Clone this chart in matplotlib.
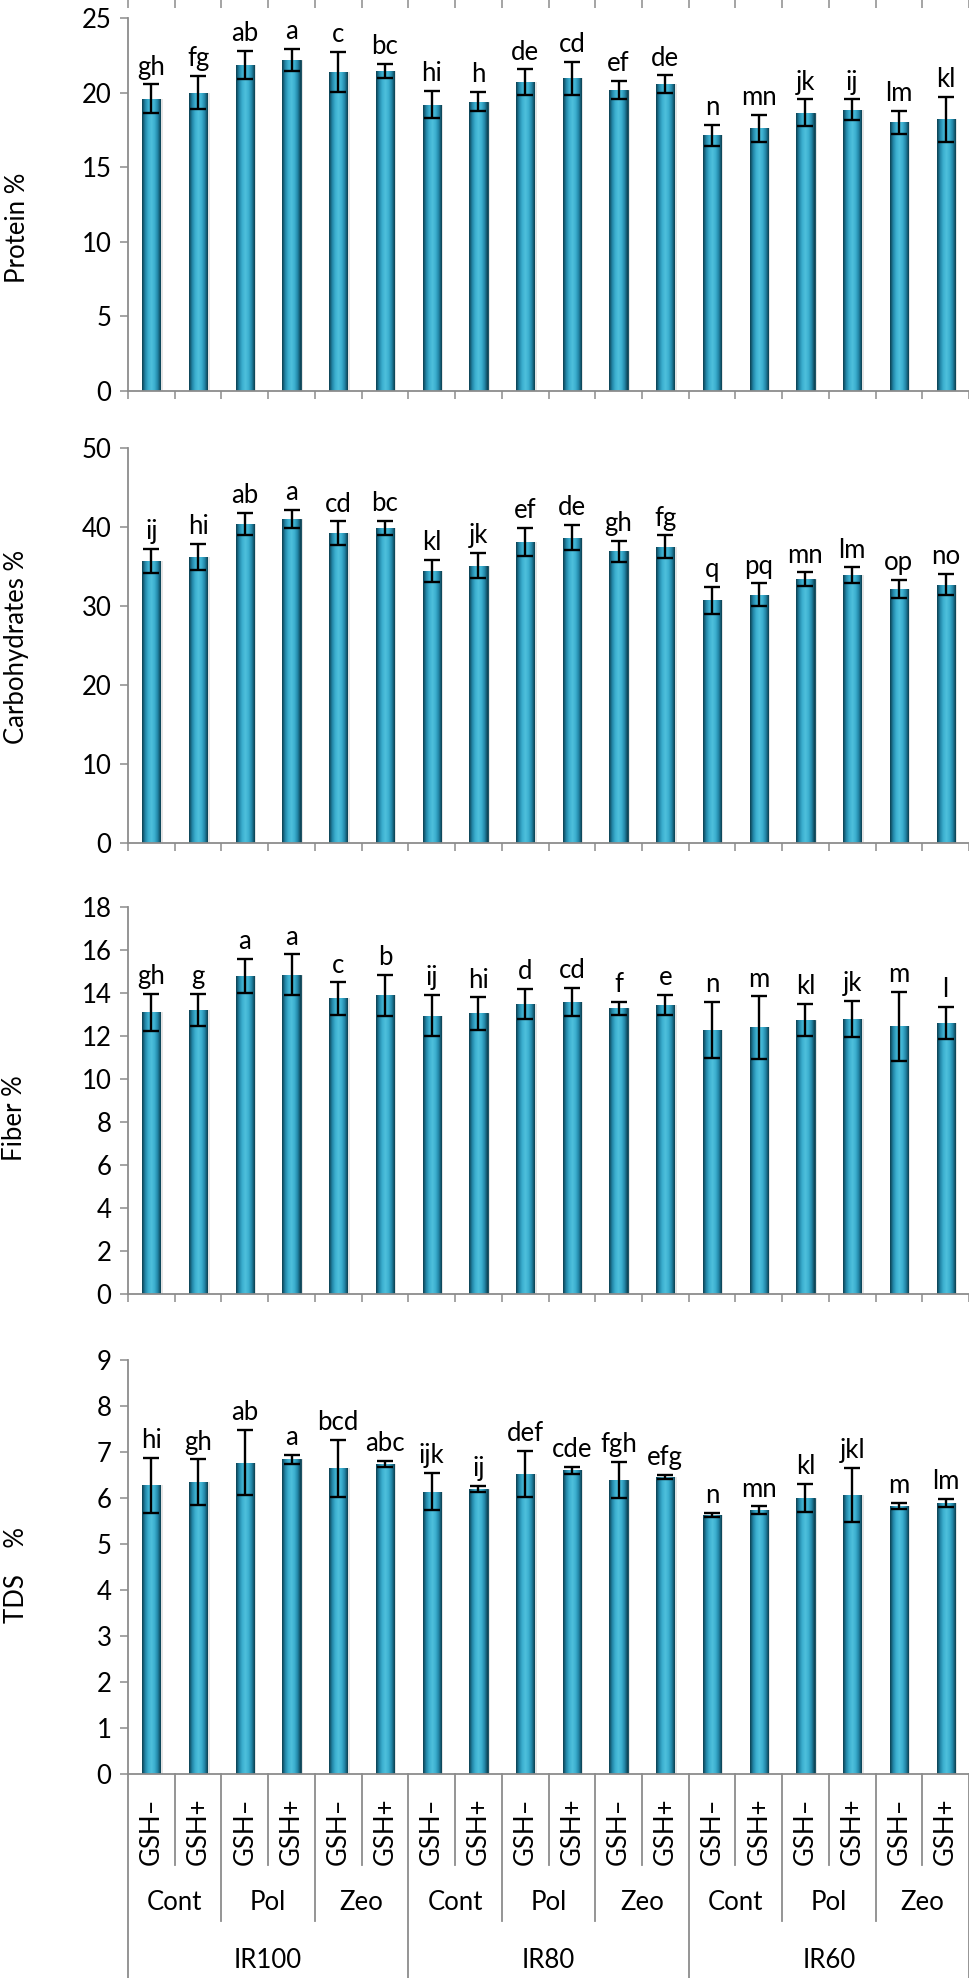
import numpy as np
import matplotlib
matplotlib.use("Agg")
import matplotlib.pyplot as plt
from matplotlib.colors import LinearSegmentedColormap
import matplotlib.transforms as mtransforms

plt.rcParams['font.family'] = ['Lato', 'DejaVu Sans']

ir_levels = ['IR100', 'IR80', 'IR60']
treatments = ['Cont', 'Pol', 'Zeo']
gsh = ['GSH\u2013', 'GSH+']

protein = [19.6, 20.0, 21.85, 22.2, 21.4, 21.45, 19.2, 19.4, 20.7, 20.95, 20.2, 20.55,
           17.15, 17.6, 18.65, 18.85, 18.0, 18.2]
protein_err = [0.95, 1.1, 0.95, 0.75, 1.35, 0.5, 0.9, 0.65, 0.85, 1.1, 0.6, 0.6,
               0.7, 0.9, 0.9, 0.7, 0.8, 1.5]
protein_letters = ['gh', 'fg', 'ab', 'a', 'c', 'bc', 'hi', 'h', 'de', 'cd', 'ef', 'de',
                   'n', 'mn', 'jk', 'ij', 'lm', 'kl']

carbs = [35.7, 36.2, 40.4, 41.0, 39.2, 39.9, 34.4, 35.1, 38.1, 38.65, 36.9, 37.5,
         30.7, 31.4, 33.4, 33.9, 32.2, 32.7]
carbs_err = [1.55, 1.7, 1.4, 1.15, 1.5, 0.9, 1.4, 1.6, 1.8, 1.6, 1.35, 1.45,
             1.75, 1.45, 0.85, 1.0, 1.15, 1.35]
carbs_letters = ['ij', 'hi', 'ab', 'a', 'cd', 'bc', 'kl', 'jk', 'ef', 'de', 'gh', 'fg',
                 'q', 'pq', 'mn', 'lm', 'op', 'no']

fiber = [13.1, 13.2, 14.8, 14.85, 13.75, 13.9, 12.95, 13.05, 13.5, 13.6, 13.3, 13.45,
         12.3, 12.4, 12.75, 12.8, 12.45, 12.6]
fiber_err = [0.85, 0.75, 0.8, 0.95, 0.75, 0.95, 0.95, 0.75, 0.7, 0.65, 0.3, 0.45,
             1.3, 1.45, 0.75, 0.85, 1.6, 0.75]
fiber_letters = ['gh', 'g', 'a', 'a', 'c', 'b', 'ij', 'hi', 'd', 'cd', 'f', 'e',
                 'n', 'm', 'kl', 'jk', 'm', 'l']

tds = [6.28, 6.34, 6.77, 6.84, 6.65, 6.74, 6.14, 6.19, 6.53, 6.6, 6.39, 6.46,
       5.63, 5.74, 6.0, 6.07, 5.83, 5.89]
tds_err = [0.6, 0.5, 0.71, 0.1, 0.62, 0.07, 0.4, 0.07, 0.5, 0.07, 0.4, 0.05,
           0.05, 0.08, 0.3, 0.59, 0.07, 0.09]
tds_letters = ['hi', 'gh', 'ab', 'a', 'bcd', 'abc', 'ijk', 'ij', 'def', 'cde', 'fgh', 'efg',
               'n', 'mn', 'kl', 'jkl', 'm', 'lm']

W, H = 969, 1978
DPI = 100
FS = 18.5
AXIS_GRAY = '#8c8c8c'
LEFT_PX, RIGHT_PX = 128, 969

gloss = LinearSegmentedColormap.from_list(
    'gloss', ['#0b3f50', '#2387a8', '#3cb0d0', '#4fc0dc', '#3cb0d0', '#2387a8', '#0b3f50'])

fig = plt.figure(figsize=(W / DPI, H / DPI), dpi=DPI)

n = len(protein)
x = np.arange(n)


def make_axes(top_px, bottom_px):
    return fig.add_axes([LEFT_PX / W, 1 - bottom_px / H,
                         (RIGHT_PX - LEFT_PX) / W, (bottom_px - top_px) / H])


def draw_panel(ax, vals, errs, letters, ymax, ystep):
    # soft shadow
    ax.bar(x + 0.05, vals, width=0.39, color='#9a9a9a', alpha=0.25, zorder=1)
    bars = ax.bar(x, vals, width=0.39, color='#2a93b4', edgecolor='#0b3f50',
                  linewidth=0.6, zorder=2)
    grad = np.linspace(0, 1, 64)[None, :]
    for b in bars:
        x0, w, h = b.get_x(), b.get_width(), b.get_height()
        im = ax.imshow(grad, extent=[x0, x0 + w, 0, h], aspect='auto', cmap=gloss,
                       zorder=2.1, interpolation='bilinear')
        im.set_clip_path(b)
    ax.errorbar(x, vals, yerr=errs, fmt='none', ecolor='black', elinewidth=1.7,
                capsize=6, capthick=1.7, zorder=3)
    for xi, v, e, lab in zip(x, vals, errs, letters):
        ax.annotate(lab, (xi, v + e), xytext=(0, 7), textcoords='offset points',
                    ha='center', va='baseline', fontsize=FS, color='black')
    ax.set_xlim(-0.5, n - 0.5)
    ax.set_ylim(0, ymax)
    ax.set_yticks(np.arange(0, ymax + ystep / 2, ystep))
    ax.set_xticks(np.arange(-0.5, n, 1))
    ax.set_xticklabels([])
    for s in ['top', 'right']:
        ax.spines[s].set_visible(False)
    for s in ['left', 'bottom']:
        ax.spines[s].set_color(AXIS_GRAY)
        ax.spines[s].set_linewidth(1.3)
    ax.tick_params(axis='both', direction='out', length=5.8, width=1.1, color=AXIS_GRAY,
                   labelsize=FS, labelcolor='black')
    ax.tick_params(axis='y', pad=6)
    ax.set_facecolor('none')


panels = [
    (18, 391, protein, protein_err, protein_letters, 25, 5, 'Protein %', 18, 228),
    (448, 843, carbs, carbs_err, carbs_letters, 50, 10, 'Carbohydrates %', 17, 647),
    (907, 1294, fiber, fiber_err, fiber_letters, 18, 2, 'Fiber %', 15, 1118),
    (1360, 1774, tds, tds_err, tds_letters, 9, 1, 'TDS    %', 17, 1575),
]

axes = []
for top, bot, vals, errs, letters, ymax, ystep, ylab, lx, ly in panels:
    ax = make_axes(top, bot)
    draw_panel(ax, vals, errs, letters, ymax, ystep)
    fig.text(lx / W, 1 - ly / H, ylab, rotation=90, ha='center', va='center', fontsize=FS)
    axes.append(ax)

# tick marks of the cut-off panel above, at the very top of the picture
ax_top = fig.add_axes([LEFT_PX / W, 0.9999, (RIGHT_PX - LEFT_PX) / W, 0.0001])
ax_top.set_xlim(-0.5, n - 0.5)
ax_top.set_xticks(np.arange(-0.5, n, 1))
ax_top.set_xticklabels([])
ax_top.set_yticks([])
for s in ax_top.spines.values():
    s.set_visible(False)
ax_top.tick_params(axis='x', direction='out', length=5.8, width=1.1, color=AXIS_GRAY)
ax_top.patch.set_visible(False)

# multi-level category axis under the last panel
ax = axes[-1]
ax.tick_params(axis='x', length=0)
ax_h_px = 1774 - 1360
trans = mtransforms.blended_transform_factory(ax.transData, ax.transAxes)


def ypx(px_below):
    return -px_below / ax_h_px


line_kw = dict(color=AXIS_GRAY, linewidth=1.3, transform=trans, clip_on=False)
for k in range(n + 1):
    b = k - 0.5
    if k % 6 == 0:
        depth = 1978 - 1774
    elif k % 2 == 0:
        depth = 1921 - 1774
    else:
        depth = 1865 - 1774
    ax.plot([b, b], [0, ypx(depth)], **line_kw)

for k in range(n):
    ax.text(k, ypx(1831 - 1774), gsh[k % 2], rotation=90, ha='center', va='center',
            fontsize=FS, transform=trans)
for t in range(n // 2):
    ax.text(2 * t + 0.5, ypx(1903 - 1774), treatments[t % 3], ha='center', va='center',
            fontsize=FS, transform=trans)
for g in range(3):
    ax.text(6 * g + 2.5, ypx(1960 - 1774), ir_levels[g], ha='center', va='center',
            fontsize=FS, transform=trans)

fig.savefig('out.png', dpi=DPI)
